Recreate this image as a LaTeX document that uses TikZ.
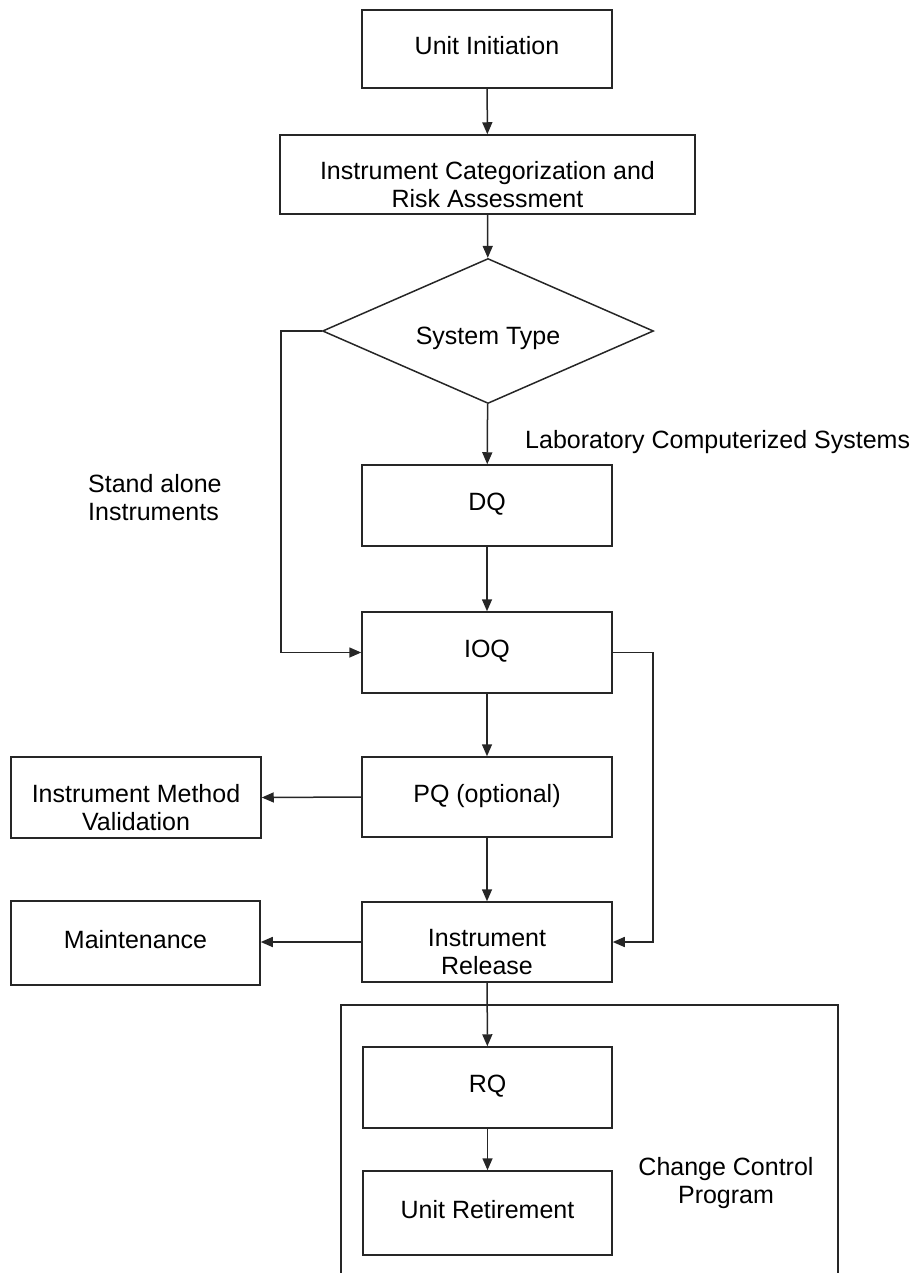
\documentclass[tikz,border=0pt]{standalone}
\usepackage{fontspec}
\setmainfont{Liberation Sans}
\usetikzlibrary{shapes.geometric,arrows.meta}
\tikzset{
  txt/.style={font=\fontsize{25}{28}\selectfont},
  frame/.style={draw=black!85, line width=1.5pt},
  box/.style={txt, frame, rectangle, inner sep=2pt, align=center,
    text height=18pt, text depth=7.5pt},
  % two-line captions sit a little below the middle of their box
  twoline/.style={label={[txt, inner sep=0pt, align=center, yshift=-10pt]center:{#1}}},
  decision/.style={txt, frame, diamond, aspect=2.28, inner sep=0pt,
    minimum width=331pt, minimum height=145pt, text height=34pt, text depth=8pt},
  flow/.style={frame, -{Triangle[length=12pt,width=10pt]}},
  lbl/.style={txt, inner sep=0pt}
}
\begin{document}
\begin{tikzpicture}[x=1pt,y=-1pt]
\useasboundingbox (0,0) rectangle (918,1273);

% main column
\node[box, minimum width=250pt, minimum height=78pt] (init) at (487,49) {Unit Initiation};
\node[box, minimum width=415pt, minimum height=79pt,
      twoline={Instrument Categorization and\\Risk Assessment}] (cat) at (487.5,174.5) {};
\node[decision] (sys) at (488,331) {System Type};
\node[box, minimum width=250pt, minimum height=81pt] (dq) at (487,505.5) {DQ};
\node[box, minimum width=250pt, minimum height=81pt] (ioq) at (487,652.5) {IOQ};
\node[box, minimum width=250pt, minimum height=80pt] (pq) at (487,797) {PQ (optional)};
\node[box, minimum width=250pt, minimum height=80pt,
      twoline={Instrument\\Release}] (rel) at (487,942) {};

% side boxes
\node[box, minimum width=250pt, minimum height=81pt,
      twoline={Instrument Method\\Validation}] (imv) at (136,797.5) {};
\node[box, minimum width=249pt, minimum height=84pt] (mnt) at (135.5,943) {Maintenance};

% change control program frame (continues below the lower edge)
\coordinate (ccTL) at (341,1005);
\coordinate (ccTR) at (838,1005);
\draw[frame] (341,1274) -- (ccTL) -- (ccTR) -- (838,1274);
\node[box, minimum width=249pt, minimum height=81pt] (rq) at (487.5,1087.5) {RQ};
\node[box, minimum width=249pt, minimum height=84pt] (ret) at (487.5,1213) {Unit Retirement};
\node[lbl, align=center] (ccp) at (726,1183.5) {Change Control\\Program};

% branch labels
\node[lbl, anchor=west] (labsys) at (525,442) {Laboratory Computerized Systems};
\node[lbl, align=left, anchor=west] (stand) at (88,498) {Stand alone\\Instruments};

% connectors
\draw[flow] (init) -- (cat);
\draw[flow] (cat) -- (sys);
\draw[flow] (sys) -- (dq);
\draw[flow] (dq) -- (ioq);
\draw[flow] (ioq) -- (pq);
\draw[flow] (pq) -- (rel);
\draw[flow] (rel) -- (rq);
\draw[flow] (rq) -- (ret);
\draw[flow] (sys.west) -| (281,652.5) -- (ioq.west);
\draw[flow] (ioq.east) -| (653,942) -- (rel.east);
\draw[flow] (pq.west) -- (imv.east);
\draw[flow] (rel.west) -- (mnt.east |- rel.west);
\end{tikzpicture}
\end{document}
